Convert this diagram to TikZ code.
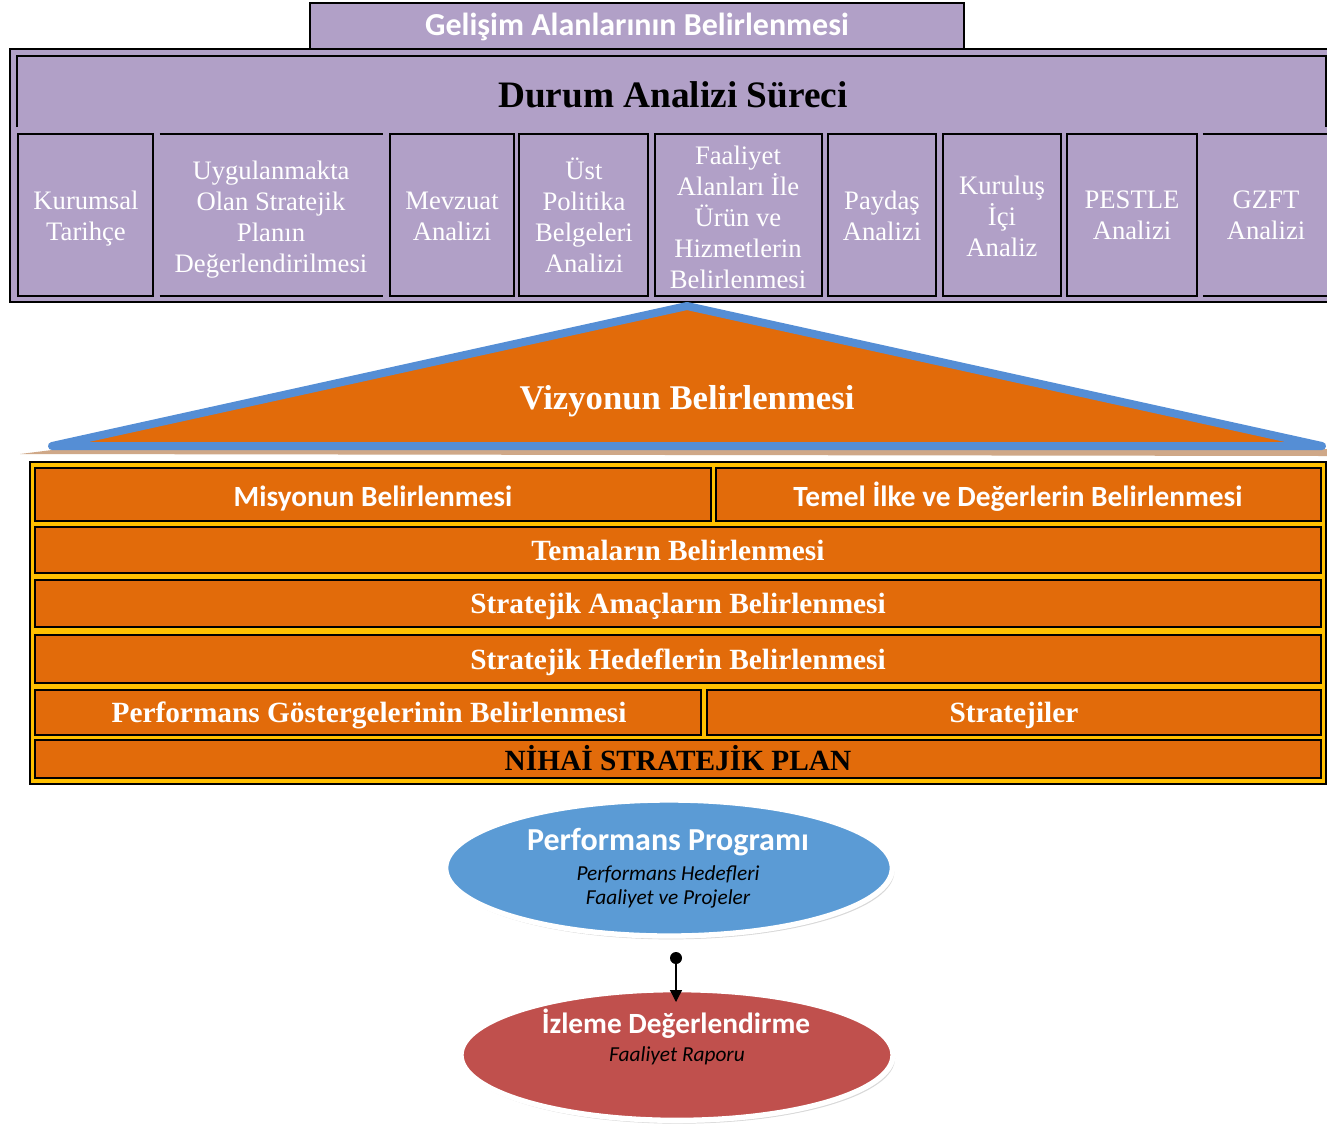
\documentclass[tikz,border=0pt]{standalone}
\usepackage{fontspec}
\setmainfont{Liberation Serif}
\newfontfamily\calib{Carlito}
\usetikzlibrary{shapes.geometric,arrows.meta,shadows}
\definecolor{lilac}{HTML}{B1A0C7}
\definecolor{orng}{HTML}{E26B0A}
\definecolor{gold}{HTML}{FFC000}
\definecolor{triblue}{HTML}{558ED5}
\definecolor{elblue}{HTML}{5B9BD5}
\definecolor{elred}{HTML}{C0504D}
\definecolor{tan}{HTML}{CFA888}
% box node #1 from (#2,#3) to (#4,#5) with style #6
\newcommand\bx[6]{\node[#6, minimum width={(#4-#2)*0.75pt}, minimum height={(#5-#3)*0.75pt}] (#1) at ({(#2+#4)/2},{(#3+#5)/2}) {};}
\tikzset{
  banner/.style={fill=lilac, draw=black, line width=1.2pt, inner sep=0pt},
  bigbox/.style={fill=lilac, draw=black, line width=1.2pt, inner sep=0pt},
  cell/.style={fill=lilac, draw=black, line width=1.2pt, inner sep=0pt},
  opencell/.style={fill=lilac, inner sep=0pt},
  celltext/.style={text=white, align=center, inner sep=0pt, font=\fontsize{20}{23.25}\selectfont},
  frame/.style={fill=gold, draw=black, line width=0.9pt, inner sep=0pt},
  row/.style={fill=orng, draw=black, line width=1.2pt, inner sep=0pt},
  capc/.style={inner sep=0pt, text height=#1, text depth=0pt},
  rowtext/.style={capc=14.2pt, text=white, font=\bfseries\fontsize{22}{26}\selectfont},
  srowtext/.style={capc=14pt, text=white, font=\calib\bfseries\fontsize{22}{26}\selectfont},
  ell/.style={ellipse, draw=white, line width=4pt, inner sep=0pt, drop shadow={shadow xshift=1.5pt, shadow yshift=-2.5pt, fill=black!30}},
  bigtitle/.style={capc=15.3pt, font=\calib\bfseries\fontsize{24}{28}\selectfont, text=white},
  subtitle/.style={inner sep=0pt, font=\calib\itshape\fontsize{16}{19}\selectfont, text=black}
}
\begin{document}
\begin{tikzpicture}[x=0.75pt, y=-0.75pt]
\useasboundingbox (0,0) rectangle (1327,1133);
\clip (0,0) rectangle (1327,1133);
\fill[white] (0,0) rectangle (1327,1133);
% top banner
\bx{gel}{310}{3}{964}{49}{banner}
\node[capc=15.3pt, text=white, font=\calib\bfseries\fontsize{24}{28}\selectfont] (gelt) at (637,25) {Gelişim Alanlarının Belirlenmesi};
% durum analizi box
\bx{durum}{10}{49}{1345}{302}{bigbox}
\draw[line width=1.2pt] (17,127) -- (17,56) -- (1326,56) -- (1326,127);
\node[capc=18.3pt, font=\bfseries\fontsize{28}{32}\selectfont] (title) at (673,95) {Durum Analizi Süreci};
% cells
\bx{kt}{18}{134}{153}{296}{cell}
\node[celltext] (ktt) at (86,219) {Kurumsal\\Tarihçe};
\bx{up}{160}{134}{383}{296}{opencell}
\draw[line width=1.2pt] (up.north west) -- (up.north east) (up.south west) -- (up.south east);
\node[celltext] (upt) at (271,219.5) {Uygulanmakta\\Olan Stratejik\\Planın\\Değerlendirilmesi};
\bx{mv}{390}{134}{514}{296}{cell}
\node[celltext] (mvt) at (452,216) {Mevzuat\\Analizi};
\bx{ust}{519}{134}{648}{296}{cell}
\node[celltext] (ustt) at (584,215.5) {Üst\\Politika\\Belgeleri\\Analizi};
\bx{fa}{655}{134}{822}{296}{cell}
\node[celltext] (fat) at (738,217.5) {Faaliyet\\Alanları İle\\Ürün ve\\Hizmetlerin\\Belirlenmesi};
\bx{pd}{828}{134}{936}{296}{cell}
\node[celltext] (pdt) at (882,215.5) {Paydaş\\Analizi};
\bx{ki}{943}{134}{1061}{296}{cell}
\node[celltext] (kit) at (1002,216) {Kuruluş\\İçi\\Analiz};
\bx{ps}{1067}{134}{1197}{296}{cell}
\node[celltext] (pst) at (1132,215.5) {PESTLE\\Analizi};
\bx{gz}{1203}{134}{1329}{296}{opencell}
\draw[line width=1.2pt] (gz.north west) -- (gz.north east) (gz.south west) -- (gz.south east);
\node[celltext] (gzt) at (1266,215.5) {GZFT\\Analizi};
% vision triangle
\fill[tan] (20,454) -- (60,449) -- (1327,449) -- (1327,456) -- cycle;
\draw[fill=orng, draw=triblue, line width=6pt, line join=round] (687,306) -- (1322,446) -- (52,446) -- cycle;
\node[capc=17pt, font=\bfseries\fontsize{26}{30}\selectfont, text=white] (viz) at (687,398) {Vizyonun Belirlenmesi};
% orange stack
\bx{frame}{30}{462}{1326}{784}{frame}
\bx{mis}{35}{468}{711}{521}{row}
\node[srowtext] (mist) at (373,497.5) {Misyonun Belirlenmesi};
\bx{tem}{716}{468}{1321}{521}{row}
\node[srowtext] (temt) at (1018,497.5) {Temel İlke ve Değerlerin Belirlenmesi};
\bx{tema}{35}{527}{1321}{573}{row}
\node[rowtext] (temat) at (678,551) {Temaların Belirlenmesi};
\bx{sa}{35}{580}{1321}{627}{row}
\node[rowtext] (sat) at (678,604) {Stratejik Amaçların Belirlenmesi};
\bx{sh}{35}{635}{1321}{683}{row}
\node[rowtext] (sht) at (678,660) {Stratejik Hedeflerin Belirlenmesi};
\bx{pg}{35}{690}{701}{735}{row}
\node[rowtext] (pgt) at (369,713.5) {Performans Göstergelerinin Belirlenmesi};
\bx{st}{707}{690}{1321}{735}{row}
\node[rowtext] (stt) at (1014,713.5) {Stratejiler};
\bx{nsp}{35}{740}{1321}{778}{row}
\node[rowtext, text=black] (nspt) at (678,761.5) {NİHAİ STRATEJİK PLAN};
% ellipses
\node[ell, fill=elblue, minimum width=335pt, minimum height=102pt] (pp) at (669,868) {};
\node[bigtitle] (pptitle) at (668,840) {Performans Programı};
\node[subtitle] (ppsub1) at (668,874) {Performans Hedefleri};
\node[subtitle] (ppsub2) at (668,899) {Faaliyet ve Projeler};
\node[ell, fill=elred, minimum width=324pt, minimum height=98pt] (iz) at (677,1055) {};
\node[bigtitle, capc=14pt, font=\calib\bfseries\fontsize{22}{26}\selectfont] (iztitle) at (676,1024) {İzleme Değerlendirme};
\node[subtitle] (izsub) at (677,1056) {Faaliyet Raporu};
% connector
\coordinate (dotpt) at (676,958);
\coordinate (tip) at (676,1002);
\fill (dotpt) circle[radius=4.5pt];
\draw[line width=1pt, -{Triangle[length=9pt,width=9pt]}] (dotpt) -- (tip);
\end{tikzpicture}
\end{document}
